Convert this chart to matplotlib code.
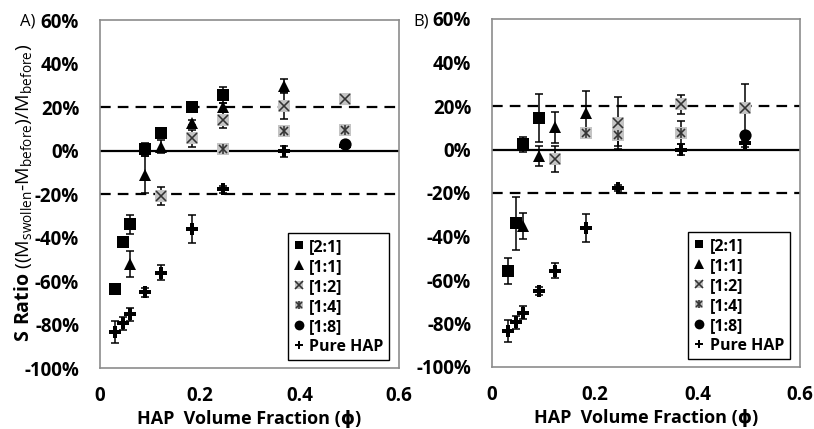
import matplotlib
matplotlib.use("Agg")
import matplotlib.pyplot as plt
from matplotlib.ticker import FuncFormatter

FAM = 'Open Sans'
plt.rcParams['font.family'] = [FAM, 'DejaVu Sans']
plt.rcParams['mathtext.fontset'] = 'custom'
plt.rcParams['mathtext.rm'] = FAM
plt.rcParams['mathtext.bf'] = FAM + ':bold'

# ---------------- data (percent) ----------------
# Panel A
a_21_x = [0.031, 0.046, 0.061, 0.091, 0.122, 0.184, 0.246]
a_21_y = [-63.5, -42, -34, 0.5, 8, 20, 25.5]
a_21_e = [0, 0, 4.2, 3, 1.5, 1.5, 3.5]

a_11_x = [0.061, 0.091, 0.122, 0.184, 0.246, 0.369]
a_11_y = [-52, -11.2, 1.8, 12.8, 20, 29.7]
a_11_e = [6, 8.5, 3, 1, 2, 3]

a_12_x = [0.122, 0.184, 0.246, 0.369, 0.492]
a_12_y = [-21, 5.6, 14, 20.3, 23.5]
a_12_e = [4, 4, 3.5, 6, 0]

a_14_x = [0.246, 0.369, 0.492]
a_14_y = [0.6, 9.1, 9.4]
a_14_e = [0, 0, 0]

a_18_x = [0.492]
a_18_y = [2.8]
a_18_e = [1.5]

a_hap_x = [0.031, 0.046, 0.061, 0.091, 0.122, 0.184, 0.246, 0.369, 0.492]
a_hap_y = [-83.6, -79.5, -75.2, -65.2, -56.2, -36.2, -17.9, -0.3, 2]
a_hap_e = [5, 3, 3, 2, 3.5, 6.5, 1.5, 2.5, 1]

# Panel B
b_21_x = [0.031, 0.046, 0.061, 0.091]
b_21_y = [-55.8, -34, 2.3, 14.3]
b_21_e = [6, 12, 3.5, 11]

b_11_x = [0.061, 0.091, 0.122, 0.184]
b_11_y = [-35.3, -3, 10.2, 16.6]
b_11_e = [6, 4.5, 7, 10.5]

b_12_x = [0.122, 0.246, 0.369, 0.492]
b_12_y = [-4.3, 12.3, 20.7, 19.2]
b_12_e = [6, 12, 4.5, 11]

b_14_x = [0.184, 0.246, 0.369]
b_14_y = [7.4, 6.6, 7.7]
b_14_e = [0, 5, 5.3]

b_18_x = [0.492]
b_18_y = [6.6]
b_18_e = [0]

b_hap_x = [0.031, 0.046, 0.061, 0.091, 0.122, 0.184, 0.246, 0.369, 0.492]
b_hap_y = [-83.6, -79.4, -75, -65, -55.8, -36, -17.6, 0, 2.8]
b_hap_e = [5, 3, 3, 2, 3.5, 6.5, 1.5, 2.5, 1.5]

series_labels = ['[2:1]', '[1:1]', '[1:2]', '[1:4]', '[1:8]', 'Pure HAP']
y_ticks = [-100, -80, -60, -40, -20, 0, 20, 40, 60]
x_ticks = [0, 0.2, 0.4, 0.6]
ref_lines = [-20, 20]

panels = {
    'A': [(a_21_x, a_21_y, a_21_e), (a_11_x, a_11_y, a_11_e), (a_12_x, a_12_y, a_12_e),
          (a_14_x, a_14_y, a_14_e), (a_18_x, a_18_y, a_18_e), (a_hap_x, a_hap_y, a_hap_e)],
    'B': [(b_21_x, b_21_y, b_21_e), (b_11_x, b_11_y, b_11_e), (b_12_x, b_12_y, b_12_e),
          (b_14_x, b_14_y, b_14_e), (b_18_x, b_18_y, b_18_e), (b_hap_x, b_hap_y, b_hap_e)],
}

W, H = 814, 429
fig = plt.figure(figsize=(W / 100, H / 100), dpi=100)

rects = {
    'A': [100 / W, 1 - 368 / H, 299 / W, 348 / H],
    'B': [492 / W, 1 - 367 / H, 308 / W, 348 / H],
}

GRAY = '#c4c4c4'
XC = '#333333'


def draw_markers(ax, kind, x, y):
    arts = []
    if kind == 0:
        arts.append(ax.plot(x, y, 's', color='black', ms=8, mew=0, zorder=5)[0])
    elif kind == 1:
        arts.append(ax.plot(x, y, '^', color='black', ms=8.8, mew=0, zorder=5)[0])
    elif kind == 2:
        arts.append(ax.plot(x, y, 's', color=GRAY, ms=8, mew=0, zorder=5)[0])
        arts.append(ax.plot(x, y, 'x', color=XC, ms=6.8, mew=1.15, zorder=6)[0])
    elif kind == 3:
        arts.append(ax.plot(x, y, 's', color=GRAY, ms=8, mew=0, zorder=5)[0])
        arts.append(ax.plot(x, y, 'x', color=XC, ms=6.2, mew=1.15, zorder=6)[0])
        arts.append(ax.plot(x, y, '|', color=XC, ms=7.2, mew=1.15, zorder=6)[0])
    elif kind == 4:
        arts.append(ax.plot(x, y, 'o', color='black', ms=8.8, mew=0, zorder=5)[0])
    elif kind == 5:
        arts.append(ax.plot(x, y, 'P', color='black', ms=8, mew=0, zorder=5)[0])
    return tuple(arts) if len(arts) > 1 else arts[0]


for name, series in panels.items():
    ax = fig.add_axes(rects[name])
    ax.set_xlim(0, 0.6)
    ax.set_ylim(-100, 60)
    for v in ref_lines:
        ax.axhline(v, color='black', lw=1.6, ls=(0, (4.8, 3.2)), zorder=1)
    ax.axhline(0, color='black', lw=1.6, zorder=1)
    handles = []
    for k, (x, y, e) in enumerate(series):
        ax.errorbar(x, y, yerr=e, fmt='none', ecolor='black', elinewidth=1.1,
                    capsize=3.2, capthick=1.1, zorder=4)
        handles.append(draw_markers(ax, k, x, y))
    ax.set_xticks(x_ticks)
    ax.set_yticks(y_ticks)
    ax.xaxis.set_major_formatter(FuncFormatter(lambda v, p: '0' if v == 0 else f'{v:.1f}'))
    ax.yaxis.set_major_formatter(FuncFormatter(lambda v, p: f'{int(round(v))}%'))
    ax.tick_params(length=0, labelsize=13.5)
    ax.tick_params(axis='y', pad=15)
    ax.tick_params(axis='x', pad=13)
    for t in ax.get_xticklabels() + ax.get_yticklabels():
        t.set_fontweight('bold')
    for s in ax.spines.values():
        s.set_color('#8c8c8c')
        s.set_linewidth(1.2)
    ax.set_xlabel('HAP  Volume Fraction (ϕ)', fontsize=13, fontweight='bold', labelpad=3)
    leg = ax.legend(handles, series_labels, loc='lower right',
                    bbox_to_anchor=(0.967, 0.022), fancybox=False, framealpha=1,
                    edgecolor='black', prop={'weight': 'bold', 'size': 11.5},
                    handlelength=0.7, handletextpad=0.3, labelspacing=0.25,
                    borderpad=0.35, borderaxespad=0, markerscale=0.8)
    leg.get_frame().set_linewidth(1.0)

fig.text(20 / W, 1 - 22 / H, 'A)', fontsize=12, ha='left', va='center')
fig.text(413 / W, 1 - 21 / H, 'B)', fontsize=12, ha='left', va='center')
fig.text(24 / W, 1 - 193 / H,
         r'$\mathbf{S\ Ratio}$ ((M$_{\mathregular{swollen}}$-M$_{\mathregular{before}}$)/M$_{\mathregular{before}}$)',
         rotation=90, fontsize=14, ha='center', va='center')

fig.savefig('out.png', dpi=100)
